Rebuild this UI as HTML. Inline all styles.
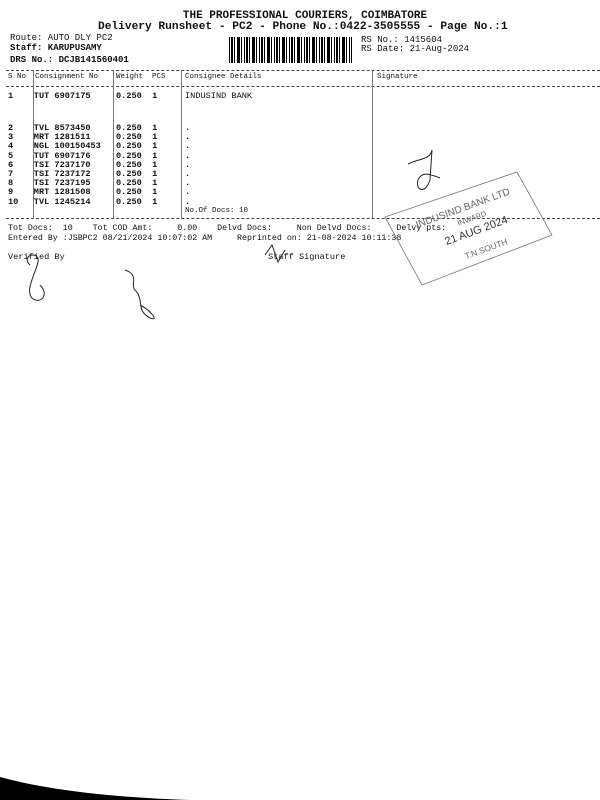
<!DOCTYPE html>
<html><head><meta charset="utf-8"><style>
body{margin:0;width:600px;height:800px;background:#fff;position:relative;overflow:hidden;font-family:"Liberation Mono","DejaVu Sans Mono",monospace;color:#111}
.t{position:absolute;white-space:pre;font-size:8.6px;line-height:9px}
.b{font-weight:bold}
.hl{position:absolute;left:6px;right:0;border-top:1px dashed #444;height:0}
.vl{position:absolute;top:70px;height:148px;border-left:1px solid #777;width:0}
</style></head><body>
<div class="t b" style="left:0;width:610px;text-align:center;top:10px;font-size:11px;line-height:12px">THE PROFESSIONAL COURIERS, COIMBATORE</div>
<div class="t b" style="left:98px;top:21px;font-size:11.2px;line-height:13px">Delivery Runsheet - PC2 - Phone No.:0422-3505555 - Page No.:1</div>
<div class="t" style="left:10px;top:34px;font-size:9px">Route: AUTO DLY PC2</div>
<div class="t b" style="left:10px;top:44px;font-size:9px">Staff: KARUPUSAMY</div>
<div class="t b" style="left:10px;top:56px;font-size:9px">DRS No.: DCJB141560401</div>
<div style="position:absolute;left:229px;top:37px;width:123px;height:26px;background:repeating-linear-gradient(90deg,#000 0 1px,#fff 1px 2px,#000 2px 4px,#fff 4px 5px,#000 5px 6px,#fff 6px 8px,#000 8px 11px,#fff 11px 12px,#000 12px 13px,#fff 13px 15px)"></div>
<div class="t" style="left:361px;top:36px;font-size:9px">RS No.: 1415604</div>
<div class="t" style="left:361px;top:45px;font-size:9px">RS Date: 21-Aug-2024</div>
<div class="hl" style="top:70px"></div>
<div class="hl" style="top:86px"></div>
<div class="hl" style="top:218px"></div>
<div class="vl" style="left:33px"></div>
<div class="vl" style="left:113px"></div>
<div class="vl" style="left:181px"></div>
<div class="vl" style="left:372px"></div>
<div class="t" style="left:8px;top:73px;font-size:7.5px">S No  Consignment No</div>
<div class="t" style="left:116px;top:73px;font-size:7.5px">Weight  PCS</div>
<div class="t" style="left:185px;top:73px;font-size:7.5px">Consignee Details</div>
<div class="t" style="left:377px;top:73px;font-size:7.5px">Signature</div>
<div class="t b" style="left:8px;top:92px">1    TUT 6907175</div>
<div class="t b" style="left:116px;top:92px">0.250  1</div>
<div class="t" style="left:185px;top:92px">INDUSIND BANK</div>
<div class="t b" style="left:8px;top:124px;line-height:9.2px">2    TVL 8573450
3    MRT 1281511
4    NGL 100150453
5    TUT 6907176
6    TSI 7237170
7    TSI 7237172
8    TSI 7237195
9    MRT 1281508
10   TVL 1245214</div>
<div class="t b" style="left:116px;top:124px;line-height:9.2px">0.250  1
0.250  1
0.250  1
0.250  1
0.250  1
0.250  1
0.250  1
0.250  1
0.250  1</div>
<div class="t b" style="left:185px;top:124px;line-height:9.2px">.
.
.
.
.
.
.
.
.</div>
<div class="t" style="left:185px;top:207px;font-size:7.5px">No.Of Docs: 10</div>
<div class="t" style="left:8px;top:224px;font-size:8.3px">Tot Docs:  10    Tot COD Amt:     0.00    Delvd Docs:     Non Delvd Docs:     Delvy pts:</div>
<div class="t" style="left:8px;top:234px;font-size:8.3px">Entered By :JSBPC2 08/21/2024 10:07:02 AM     Reprinted on: 21-08-2024 10:11:38</div>
<div class="t" style="left:8px;top:253px">Verified By</div>
<div class="t" style="left:268px;top:253px">Staff Signature</div>
<svg style="position:absolute;left:0;top:0" width="600" height="800">
<g fill="none" stroke="#222" stroke-width="1">
<path d="M30 265 C20 255 40 250 38 262 C35 275 25 290 32 298 C40 305 50 295 40 285"/>
<path d="M125 270 C140 275 130 285 135 290 C145 300 135 310 150 318 C160 322 150 310 140 305"/>
<path d="M408 164 C420 158 430 160 432 150 L430 180 C425 195 415 190 418 180 C422 170 432 175 440 178"/>
<path d="M265 255 L272 245 L278 262 L285 250"/>
</g>
<g stroke="#777" fill="none" stroke-width="0.8"><polygon points="385,217 517,172 552,235 422,285"/></g>
<g fill="#666" font-family="Liberation Sans,sans-serif" transform="rotate(-20 470 228)">
<text x="470" y="210" font-size="10" text-anchor="middle">INDUSIND BANK LTD</text>
<text x="475" y="222" font-size="7.5" text-anchor="middle">INWARD</text>
<text x="475" y="236" font-size="11" text-anchor="middle" fill="#333">21 AUG 2024</text>
<text x="478" y="256" font-size="8.5" text-anchor="middle">T.N.SOUTH</text>
</g>
<path d="M0 777 C40 788 100 797 190 800 L0 800 Z" fill="#000"/>
</svg>
</body></html>
